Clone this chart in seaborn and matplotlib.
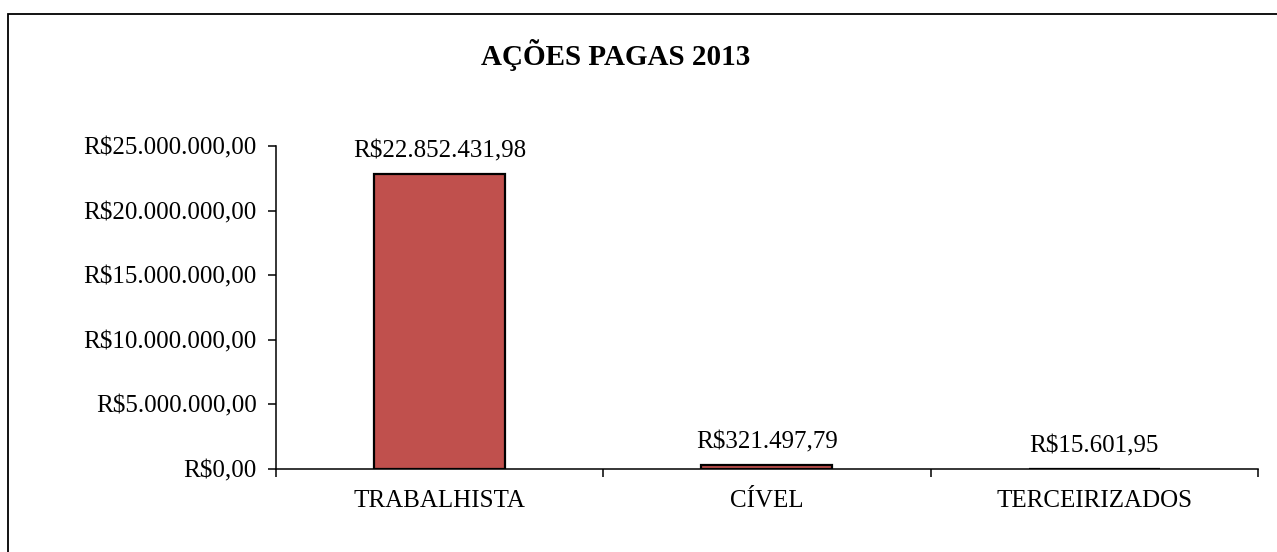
import matplotlib
matplotlib.use("Agg")
import matplotlib.pyplot as plt
import matplotlib.patches as mpatches
from matplotlib.ticker import FuncFormatter, FixedLocator
import seaborn as sns
import pandas as pd

# Valores pagos em ações no ano de 2013
categorias = ["TRABALHISTA", "CÍVEL", "TERCEIRIZADOS"]
valores = [22852431.98, 321497.79, 15601.95]
titulo = "AÇÕES PAGAS 2013"
y_ticks = [0, 5_000_000, 10_000_000, 15_000_000, 20_000_000, 25_000_000]

COR_BARRA = "#C0504D"
TAM_FONTE = 18

sns.set_theme(style="ticks")
plt.rcParams["font.family"] = ["Liberation Serif", "DejaVu Serif"]


def brl(v, pos=None):
    """Formata um número como moeda brasileira (R$1.234,56)."""
    s = f"{v:,.2f}"
    s = s.replace(",", "X").replace(".", ",").replace("X", ".")
    return "R$" + s


df = pd.DataFrame({"categoria": categorias, "valor": valores})

fig = plt.figure(figsize=(12.77, 5.52), dpi=100)
ax = fig.add_axes([0.2161, 0.1504, 0.9851 - 0.2161, 0.7355 - 0.1504])

sns.barplot(data=df, x="categoria", y="valor", color=COR_BARRA,
            saturation=1, width=0.4, edgecolor="black", linewidth=1.6, ax=ax)

ax.set_xlim(-0.5, len(categorias) - 0.5)
ax.set_ylim(0, 25_000_000)
ax.yaxis.set_major_locator(FixedLocator(y_ticks))
ax.yaxis.set_major_formatter(FuncFormatter(brl))

# Marcas do eixo x nos limites das categorias
ax.xaxis.set_minor_locator(FixedLocator([i + 0.5 for i in range(-1, len(categorias))]))
ax.tick_params(axis="x", which="major", length=0, pad=15, labelsize=TAM_FONTE, colors="black")
ax.tick_params(axis="x", which="minor", length=6, width=1.1, direction="out", color="black")
ax.tick_params(axis="y", which="major", length=6, width=1.1, direction="out",
               pad=8, labelsize=TAM_FONTE, colors="black")

ax.set_xlabel("")
ax.set_ylabel("")
sns.despine(ax=ax)
for lado in ("left", "bottom"):
    ax.spines[lado].set_color("black")
    ax.spines[lado].set_linewidth(1.1)

# Rótulos de valor acima das barras
for barra, v in zip(ax.patches, valores):
    ax.annotate(brl(v), (barra.get_x() + barra.get_width() / 2, barra.get_height()),
                xytext=(0, 16), textcoords="offset points",
                ha="center", va="center", fontsize=TAM_FONTE, color="black")

fig.text(616 / 1277, 1 - 55 / 552, titulo, ha="center", va="center",
         fontsize=21, fontweight="bold", color="black")

# Moldura da área do gráfico
moldura = mpatches.Rectangle((8 / 1277, -0.05), 1.2, 1 - 14 / 552 + 0.05,
                             transform=fig.transFigure, fill=False,
                             edgecolor="black", linewidth=1.3)
fig.patches.append(moldura)

fig.savefig("out.png", dpi=100)
